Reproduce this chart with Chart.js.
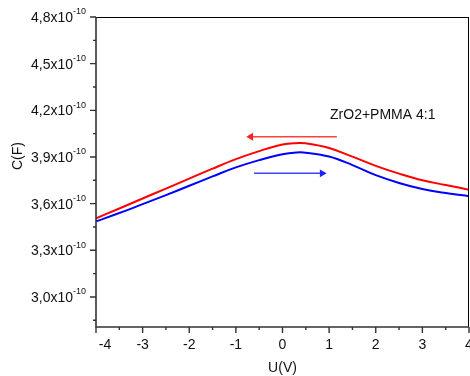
<!DOCTYPE html>
<html>
<head>
<meta charset="utf-8">
<script src="https://cdn.jsdelivr.net/npm/chart.js@4.4.1/dist/chart.umd.min.js"></script>
<style>
html,body{margin:0;padding:0;background:#fff;overflow:hidden;}
#wrap{width:470px;height:376px;position:relative;}
</style>
</head>
<body>
<div id="wrap"><canvas id="c"></canvas></div>
<script>
// Voltage U (V)
const voltage = [-4,-3.5,-3,-2.5,-2,-1.5,-1,-0.5,0,0.3,0.5,1,1.5,2,2.5,3,3.5,4];
// Capacitance C in units of 1e-10 F
const capReverse = [3.505,3.569,3.633,3.697,3.761,3.825,3.886,3.938,3.980,3.989,3.988,3.958,3.902,3.843,3.793,3.750,3.720,3.690];
const capForward = [3.486,3.540,3.597,3.655,3.715,3.775,3.833,3.880,3.918,3.929,3.928,3.903,3.848,3.783,3.733,3.694,3.668,3.648];
// sweep direction arrows [x start, x end], y
const arrowReverseX = [1.165,-0.68]; const arrowReverseY = 4.03;
const arrowForwardX = [-0.61,0.85];  const arrowForwardY = 3.795;
// axis ticks
const xMajorTicks = [-4,-3,-2,-1,0,1,2,3,4];
const xTickLabels = ['-4','-3','-2','-1','0','1','2','3','4'];
const yMajorTicks = [3.0,3.3,3.6,3.9,4.2,4.5,4.8];
const yTickLabels = ['3,0','3,3','3,6','3,9','4,2','4,5','4,8'];
const yExponent = '-10';
const sampleLabel = 'ZrO2+PMMA 4:1';
const labelPos = [1.02, 4.17];

const FONT = '"Liberation Sans", Arial, sans-serif';
const pts = (xs, ys) => xs.map((x,i)=>({x, y: ys[i]}));

const framePlugin = {
  id: 'frame',
  afterDraw(chart) {
    const {ctx, chartArea: a, scales: {x, y}} = chart;
    ctx.save();
    ctx.strokeStyle = '#000';
    ctx.lineWidth = 1;
    ctx.beginPath();
    ctx.moveTo(a.left, a.top + 0.5); ctx.lineTo(a.right, a.top + 0.5);
    ctx.moveTo(a.right - 0.5, a.top); ctx.lineTo(a.right - 0.5, a.bottom);
    ctx.stroke();
    ctx.strokeStyle = '#333';
    ctx.lineWidth = 1.6;
    ctx.beginPath();
    ctx.moveTo(a.left, a.top); ctx.lineTo(a.left, a.bottom + 0.8);
    ctx.moveTo(a.left - 0.8, a.bottom); ctx.lineTo(a.right, a.bottom);
    ctx.stroke();
    ctx.lineWidth = 1.4;
    ctx.beginPath();
    for (let i = 0; i < yMajorTicks.length; i++) {
      const py = y.getPixelForValue(yMajorTicks[i]);
      ctx.moveTo(a.left - 6, py); ctx.lineTo(a.left, py);
      const mv = yMajorTicks[i] - 0.15;
      if (mv >= y.min) {
        const pm = y.getPixelForValue(mv);
        ctx.moveTo(a.left - 3, pm); ctx.lineTo(a.left, pm);
      }
    }
    for (let i = 0; i < xMajorTicks.length; i++) {
      const px = x.getPixelForValue(xMajorTicks[i]);
      ctx.moveTo(px, a.bottom); ctx.lineTo(px, a.bottom + 6);
      if (i < xMajorTicks.length - 1) {
        const pm = x.getPixelForValue(xMajorTicks[i] + 0.5);
        ctx.moveTo(pm, a.bottom); ctx.lineTo(pm, a.bottom + 3);
      }
    }
    ctx.stroke();
    ctx.fillStyle = '#111';
    ctx.textBaseline = 'middle';
    for (let i = 0; i < yMajorTicks.length; i++) {
      const py = y.getPixelForValue(yMajorTicks[i]);
      ctx.font = '9px ' + FONT;
      const ew = ctx.measureText(yExponent).width;
      const right = a.left - 10;
      ctx.textAlign = 'right';
      ctx.fillText(yExponent, right, py - 5);
      ctx.font = '14px ' + FONT;
      ctx.fillText(yTickLabels[i] + 'x10', right - ew, py + 1);
    }
    ctx.font = '14px ' + FONT;
    ctx.textAlign = 'center';
    for (let i = 0; i < xMajorTicks.length; i++) {
      let px = x.getPixelForValue(xMajorTicks[i]);
      if (i === 0) px += 9;
      ctx.fillText(xTickLabels[i], px, a.bottom + 18);
    }
    ctx.fillText('U(V)', (a.left + a.right) / 2, a.bottom + 41);
    ctx.save();
    ctx.translate(18, 156);
    ctx.rotate(-Math.PI / 2);
    ctx.fillText('C(F)', 0, 0);
    ctx.restore();
    ctx.textAlign = 'left';
    ctx.fillText(sampleLabel, x.getPixelForValue(labelPos[0]), y.getPixelForValue(labelPos[1]));
    ctx.restore();
  }
};

new Chart(document.getElementById('c'), {
  type: 'line',
  data: {
    datasets: [
      {data: pts(voltage, capReverse), borderColor: '#ff0000', borderWidth: 2, pointRadius: 0, tension: 0.4, fill: false},
      {data: pts(voltage, capForward), borderColor: '#0000ff', borderWidth: 2, pointRadius: 0, tension: 0.4, fill: false},
      {data: pts(arrowReverseX, [arrowReverseY, arrowReverseY]), borderColor: '#ff4040', backgroundColor: '#ff2020', borderWidth: 1.5,
        pointRadius: [0, 4.5], pointStyle: 'triangle', rotation: -90, pointBorderWidth: 0, tension: 0},
      {data: pts(arrowForwardX, [arrowForwardY, arrowForwardY]), borderColor: '#4040ff', backgroundColor: '#2020ff', borderWidth: 1.5,
        pointRadius: [0, 4.5], pointStyle: 'triangle', rotation: 90, pointBorderWidth: 0, tension: 0}
    ]
  },
  options: {
    responsive: true,
    maintainAspectRatio: false,
    animation: false,
    events: [],
    layout: {autoPadding: false, padding: {top: 17, right: 1, left: 0, bottom: 0}},
    plugins: {legend: {display: false}, tooltip: {enabled: false}},
    scales: {
      x: {type: 'linear', min: -4, max: 4,
        grid: {display: false}, border: {display: false}, ticks: {display: false},
        afterFit(s) { s.height = 49; }},
      y: {type: 'linear', min: 2.807, max: 4.8,
        grid: {display: false}, border: {display: false}, ticks: {display: false},
        afterFit(s) { s.width = 96; }}
    }
  },
  plugins: [framePlugin]
});
</script>
</body>
</html>
